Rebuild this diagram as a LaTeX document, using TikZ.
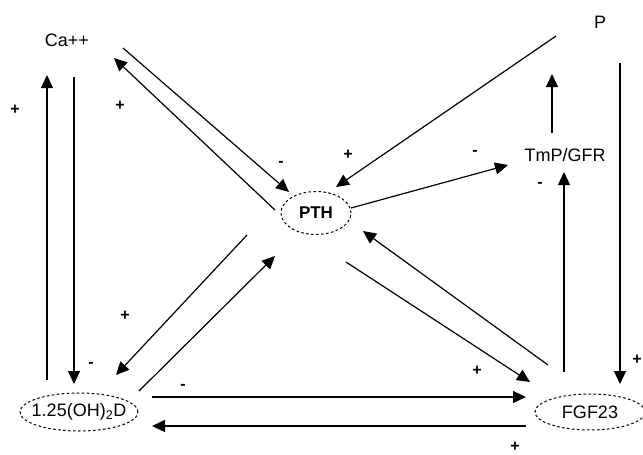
\documentclass[tikz,border=0pt]{standalone}
\usepackage{fontspec}
\setmainfont{Liberation Sans}
\usetikzlibrary{arrows.meta,shapes.geometric}

\tikzset{
  conn/.style={line width=1.2pt,-{Triangle[length=13pt,width=12pt]}},
  hormone/.style={ellipse,draw,line width=1pt,dash pattern=on 2.6pt off 2.4pt,inner sep=0pt},
  lbl/.style={font=\fontsize{18}{20}\selectfont,inner sep=0pt},
  sgn/.style={font=\fontsize{16}{18}\selectfont\bfseries,inner sep=0pt}
}

\begin{document}
\begin{tikzpicture}[x=1pt,y=-1pt]
    \useasboundingbox (0,0) rectangle (643,455);
    % the players
    \node[lbl] (ca) at (67,40) {Ca++};
    \node[lbl] (p) at (600,22) {P};
    \node[lbl] (tmp) at (565,155) {TmP/GFR};
    \node[hormone,lbl,font=\fontsize{17}{19}\selectfont\bfseries,minimum width=70pt,minimum height=43pt] (pth) at (316,213) {PTH};
    \node[hormone,lbl,inner xsep=-11pt,minimum width=118pt,minimum height=38pt] (vitd) at (79,412) {1.25(OH)\textsubscript{2}D};
    \node[hormone,lbl,minimum width=110pt,minimum height=36pt] (fgf) at (590,412) {FGF23};

    % vertical pairs
    \draw[conn] ([shift={(-32,-32)}]vitd.center) -- ([shift={(-20,35)}]ca.center);
    \draw[conn] ([shift={(7,37)}]ca.center) -- ([shift={(-5,-28)}]vitd.center);
    \draw[conn] ([shift={(-13,-22)}]tmp.center) -- ([shift={(-48,52)}]p.center);
    \draw[conn] ([shift={(-26,-40)}]fgf.center) -- ([shift={(-1,17)}]tmp.center);
    \draw[conn] ([shift={(20,41)}]p.center) -- ([shift={(30,-28)}]fgf.center);

    % around PTH
    \draw[conn] ([shift={(56,8)}]ca.center) -- ([shift={(-27,-21)}]pth.center);
    \draw[conn] ([shift={(-41,-3)}]pth.center) -- ([shift={(47,18)}]ca.center);
    \draw[conn] ([shift={(-44,14)}]p.center) -- ([shift={(20,-26)}]pth.center);
    \draw[conn] ([shift={(35,-5)}]pth.center) -- ([shift={(-57,10)}]tmp.center);
    \draw[conn] ([shift={(30,49)}]pth.center) -- ([shift={(-60,-30)}]fgf.center);
    \draw[conn] ([shift={(-42,-47)}]fgf.center) -- ([shift={(47,18)}]pth.center);
    \draw[conn] ([shift={(-69,22)}]pth.center) -- ([shift={(37,-37)}]vitd.center);
    \draw[conn] ([shift={(60,-21)}]vitd.center) -- ([shift={(-41,43)}]pth.center);

    % bottom pair
    \draw[conn] ([shift={(73,-15)}]vitd.center) -- ([shift={(-64,-15)}]fgf.center);
    \draw[conn] ([shift={(-64,14)}]fgf.center) -- ([shift={(73,14)}]vitd.center);

    % signs
    \foreach \s/\x/\y [count=\i] in {+/15/110, -/91/365, -/281/164, +/120/106, +/348/155, -/475/153,
        -/540/185, +/637/360, +/477/371, +/125/316, -/183/387, +/515/447}
      \node[sgn] (sign\i) at (\x,\y) {\s};
\end{tikzpicture}
\end{document}
